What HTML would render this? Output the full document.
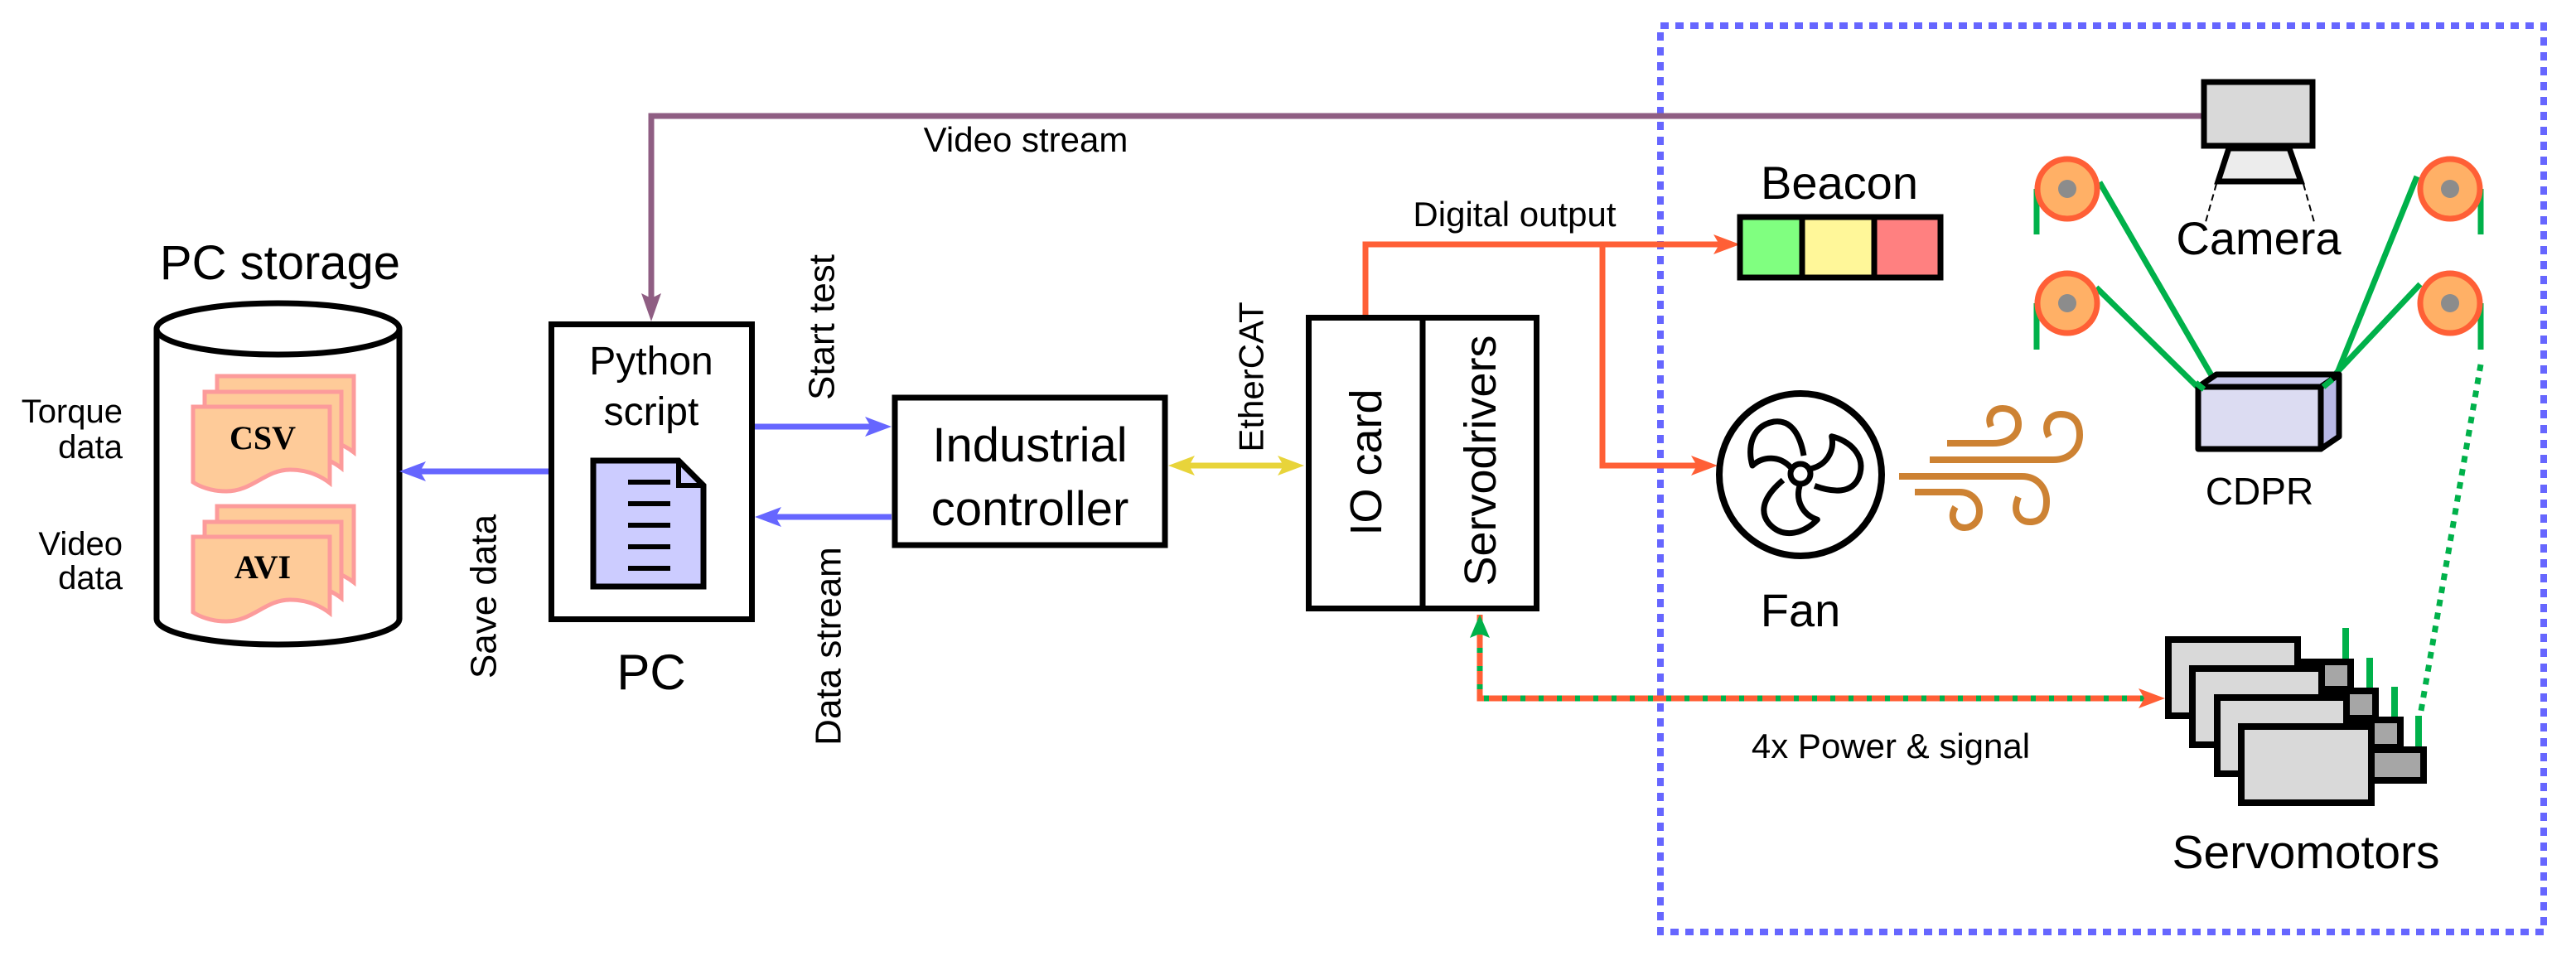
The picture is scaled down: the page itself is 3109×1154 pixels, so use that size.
<!DOCTYPE html>
<html><head><meta charset="utf-8"><style>html,body{margin:0;padding:0;background:#fff}svg{display:block}text{font-family:"Liberation Sans",sans-serif;fill:#000}</style></head>
<body>
<svg width="3109" height="1154" viewBox="0 0 3109 1154" xmlns="http://www.w3.org/2000/svg">
<rect x="2004" y="31" width="1066" height="1094" fill="none" stroke="#6666ff" stroke-width="8" stroke-dasharray="10 8"/>

<polyline points="2657,140 786,140 786,360" fill="none" stroke="#8f5e83" stroke-width="7"/>
<polygon points="786,388 774,354 786,360 798,354" fill="#8f5e83"/>
<text x="1238" y="183" font-size="42" text-anchor="middle">Video stream</text>

<text x="338" y="337" font-size="58" text-anchor="middle">PC storage</text>
<path d="M189,397 V747 A146.5,31 0 0 0 482,747 V397" fill="#fff" stroke="#000" stroke-width="7"/>
<ellipse cx="335.5" cy="397" rx="146.5" ry="31" fill="#fff" stroke="#000" stroke-width="7"/>
<g stroke="#fc9b9b" stroke-width="5" fill="#fecb99">
 <path transform="translate(29,-37)" d="M233,491 H398 V583 C385,573 370,567 350,567 C320,567 305,593 273,593 C255,593 240,587 233,582 Z"/>
 <path transform="translate(14,-18)" d="M233,491 H398 V583 C385,573 370,567 350,567 C320,567 305,593 273,593 C255,593 240,587 233,582 Z"/>
 <path d="M233,491 H398 V583 C385,573 370,567 350,567 C320,567 305,593 273,593 C255,593 240,587 233,582 Z"/>
 <path transform="translate(29,120)" d="M233,491 H398 V583 C385,573 370,567 350,567 C320,567 305,593 273,593 C255,593 240,587 233,582 Z"/>
 <path transform="translate(14,139)" d="M233,491 H398 V583 C385,573 370,567 350,567 C320,567 305,593 273,593 C255,593 240,587 233,582 Z"/>
 <path transform="translate(0,157)" d="M233,491 H398 V583 C385,573 370,567 350,567 C320,567 305,593 273,593 C255,593 240,587 233,582 Z"/>
</g>
<text x="317" y="542" font-size="40" font-weight="bold" text-anchor="middle" style="font-family:'Liberation Serif',serif">CSV</text>
<text x="317" y="698" font-size="40" font-weight="bold" text-anchor="middle" style="font-family:'Liberation Serif',serif">AVI</text>
<text x="148" y="510" font-size="40" text-anchor="end">Torque</text>
<text x="148" y="553" font-size="40" text-anchor="end">data</text>
<text x="148" y="670" font-size="40" text-anchor="end">Video</text>
<text x="148" y="711" font-size="40" text-anchor="end">data</text>

<line x1="662" y1="569" x2="505" y2="569" stroke="#6666ff" stroke-width="7"/>
<polygon points="482,569 514,557 507,569 514,581" fill="#6666ff"/>
<text transform="translate(584,720) rotate(-90)" font-size="44" text-anchor="middle" dominant-baseline="central">Save data</text>

<rect x="665.5" y="391.5" width="242" height="356" fill="#fff" stroke="#000" stroke-width="7"/>
<text x="786" y="452" font-size="48" text-anchor="middle">Python</text>
<text x="786" y="513" font-size="48" text-anchor="middle">script</text>
<path d="M716,556 H819 L849,586 V708 H716 Z" fill="#ccccff" stroke="#000" stroke-width="7"/>
<path d="M819,556 V586 H849" fill="none" stroke="#000" stroke-width="6"/>
<g stroke="#000" stroke-width="6"><line x1="758" y1="582" x2="809" y2="582"/><line x1="758" y1="608" x2="809" y2="608"/><line x1="758" y1="634" x2="809" y2="634"/><line x1="758" y1="660" x2="809" y2="660"/><line x1="758" y1="686" x2="809" y2="686"/></g>
<text x="786" y="832" font-size="60" text-anchor="middle">PC</text>

<line x1="911" y1="515" x2="1052" y2="515" stroke="#6666ff" stroke-width="7"/>
<polygon points="1076,515 1044,503 1051,515 1044,527" fill="#6666ff"/>
<text transform="translate(992,395) rotate(-90)" font-size="44" text-anchor="middle" dominant-baseline="central">Start test</text>
<line x1="1076" y1="624" x2="935" y2="624" stroke="#6666ff" stroke-width="7"/>
<polygon points="911,624 943,612 936,624 943,636" fill="#6666ff"/>
<text transform="translate(1000,780) rotate(-90)" font-size="44" text-anchor="middle" dominant-baseline="central">Data stream</text>

<rect x="1080" y="480" width="326" height="178" fill="#fff" stroke="#000" stroke-width="7"/>
<text x="1243" y="557" font-size="58" text-anchor="middle">Industrial</text>
<text x="1243" y="634" font-size="58" text-anchor="middle">controller</text>

<line x1="1428" y1="562" x2="1556" y2="562" stroke="#e8d43a" stroke-width="7"/>
<polygon points="1410,562 1442,550 1435,562 1442,574" fill="#e8d43a"/>
<polygon points="1574,562 1542,550 1549,562 1542,574" fill="#e8d43a"/>
<text transform="translate(1510,455) rotate(-90)" font-size="42" text-anchor="middle" dominant-baseline="central">EtherCAT</text>

<rect x="1579.5" y="383.5" width="275" height="351" fill="#fff" stroke="#000" stroke-width="7"/>
<line x1="1717" y1="384" x2="1717" y2="735" stroke="#000" stroke-width="7"/>
<text transform="translate(1649,558) rotate(-90)" font-size="54" text-anchor="middle" dominant-baseline="central">IO card</text>
<text transform="translate(1787,556) rotate(-90)" font-size="54" text-anchor="middle" dominant-baseline="central">Servodrivers</text>

<polyline points="1648,380 1648,295 2078,295" fill="none" stroke="#ff5f36" stroke-width="7"/>
<polygon points="2100,295 2068,283 2075,295 2068,307" fill="#ff5f36"/>
<polyline points="1934,295 1934,562 2050,562" fill="none" stroke="#ff5f36" stroke-width="7"/>
<polygon points="2073,562 2041,550 2048,562 2041,574" fill="#ff5f36"/>
<text x="1828" y="273" font-size="42" text-anchor="middle">Digital output</text>

<text x="2220" y="240" font-size="56" text-anchor="middle">Beacon</text>
<rect x="2100" y="262" width="75" height="73" fill="#80ff80" stroke="#000" stroke-width="7"/>
<rect x="2175" y="262" width="87" height="73" fill="#fff799" stroke="#000" stroke-width="7"/>
<rect x="2262" y="262" width="80" height="73" fill="#ff8080" stroke="#000" stroke-width="7"/>

<circle cx="2173" cy="573" r="98" fill="#fff" stroke="#000" stroke-width="8"/>
<circle cx="2173" cy="572" r="12" fill="#fff" stroke="#000" stroke-width="7"/>
<g transform="translate(2173,572)" fill="none" stroke="#000" stroke-width="7" stroke-linejoin="round">
 <path d="M-12,-8 C-25,-22 -45,-22 -58,-10 C-64,-30 -60,-58 -32,-63 C-10,-66 0,-45 4,-22"/>
 <path transform="rotate(120)" d="M-12,-8 C-25,-22 -45,-22 -58,-10 C-64,-30 -60,-58 -32,-63 C-10,-66 0,-45 4,-22"/>
 <path transform="rotate(240)" d="M-12,-8 C-25,-22 -45,-22 -58,-10 C-64,-30 -60,-58 -32,-63 C-10,-66 0,-45 4,-22"/>
</g>
<text x="2173" y="756" font-size="56" text-anchor="middle">Fan</text>
<g fill="none" stroke="#cd8233" stroke-width="8">
 <path d="M2350,535 H2405 C2425,535 2436,525 2436,512 C2436,498 2426,493 2417,493 C2405,493 2398,503 2403,515"/>
 <path d="M2329,555 H2478 C2500,555 2510,540 2510,525 C2510,505 2498,500 2487,500 C2472,500 2466,515 2473,527"/>
 <path d="M2292,575 H2440 C2460,575 2470,590 2470,605 C2470,625 2460,630 2450,630 C2438,630 2428,620 2436,600"/>
 <path d="M2311,594 H2365 C2380,594 2389,605 2389,617 C2389,630 2380,637 2371,637 C2360,637 2352,625 2360,612"/>
</g>

<rect x="2660" y="99" width="131" height="77" fill="#d9d9d9" stroke="#000" stroke-width="7"/>
<polygon points="2690,179 2763,179 2777,219 2677,219" fill="#ececec" stroke="#000" stroke-width="7"/>
<line x1="2675" y1="222" x2="2662" y2="268" stroke="#000" stroke-width="2" stroke-dasharray="8 5"/>
<line x1="2780" y1="222" x2="2793" y2="268" stroke="#000" stroke-width="2" stroke-dasharray="8 5"/>
<text x="2726" y="307" font-size="56" text-anchor="middle">Camera</text>

<g stroke="#00b14a" stroke-width="7" fill="none">
 <line x1="2458" y1="228" x2="2458" y2="283"/><line x1="2458" y1="366" x2="2458" y2="422"/>
 <line x1="2994" y1="228" x2="2994" y2="283"/><line x1="2994" y1="366" x2="2994" y2="422"/>
 <line x1="2534" y1="220" x2="2669" y2="453"/>
 <line x1="2530" y1="347" x2="2652" y2="467"/>
 <line x1="2917" y1="213" x2="2821" y2="450"/>
 <line x1="2921" y1="343" x2="2804" y2="467"/>
</g>
<g stroke="#ff5f36" stroke-width="7" fill="#ffb066">
 <circle cx="2495" cy="228" r="36"/><circle cx="2495" cy="366" r="36"/>
 <circle cx="2957" cy="228" r="36"/><circle cx="2957" cy="366" r="36"/>
</g>
<g fill="#8c8c8c"><circle cx="2495" cy="228" r="11"/><circle cx="2495" cy="366" r="11"/><circle cx="2957" cy="228" r="11"/><circle cx="2957" cy="366" r="11"/></g>
<g stroke="#000" stroke-width="7" stroke-linejoin="round">
 <polygon points="2653,467 2675,452 2823,452 2801,467" fill="#c8c8ec"/>
 <polygon points="2801,467 2823,452 2823,527 2801,542" fill="#b8b8e6"/>
 <rect x="2653" y="467" width="148" height="75" fill="#dcdcf2"/>
</g>
<g stroke="#00b14a" stroke-width="7"><line x1="2650" y1="462" x2="2660" y2="470"/><line x1="2804" y1="467" x2="2815" y2="458"/></g>
<text x="2727" y="609" font-size="46" text-anchor="middle">CDPR</text>

<polyline points="1786,742 1786,843 2590,843" fill="none" stroke="#ff5f36" stroke-width="7"/>
<polyline points="1786,760 1786,843 2590,843" fill="none" stroke="#00b14a" stroke-width="7" stroke-dasharray="6 16"/>
<polygon points="2613,843 2581,831 2588,843 2581,855" fill="#ff5f36"/>
<polygon points="1786,742 1774,770 1786,765 1798,770" fill="#00b14a"/>
<text x="2282" y="915" font-size="42" text-anchor="middle">4x Power &amp; signal</text>
<line x1="2994" y1="440" x2="2922" y2="858" stroke="#00b14a" stroke-width="7" stroke-dasharray="8 8"/>

<g stroke="#000" stroke-width="8">
 <rect x="2772" y="799" width="65" height="33" fill="#a6a6a6"/>
 <rect x="2617" y="772" width="156" height="92" fill="#d9d9d9"/>
 <rect x="2802" y="834" width="65" height="33" fill="#a6a6a6"/>
 <rect x="2646" y="807" width="156" height="92" fill="#d9d9d9"/>
 <rect x="2832" y="869" width="65" height="33" fill="#a6a6a6"/>
 <rect x="2676" y="842" width="156" height="92" fill="#d9d9d9"/>
 <rect x="2862" y="905" width="63" height="37" fill="#a6a6a6"/>
 <rect x="2705" y="877" width="157" height="92" fill="#d9d9d9"/>
</g>
<g stroke="#00b14a" stroke-width="8">
 <line x1="2831" y1="758" x2="2831" y2="795"/><line x1="2860" y1="794" x2="2860" y2="830"/>
 <line x1="2890" y1="829" x2="2890" y2="865"/><line x1="2919" y1="864" x2="2919" y2="901"/>
</g>
<text x="2783" y="1048" font-size="57" text-anchor="middle">Servomotors</text>
</svg>
</body></html>
